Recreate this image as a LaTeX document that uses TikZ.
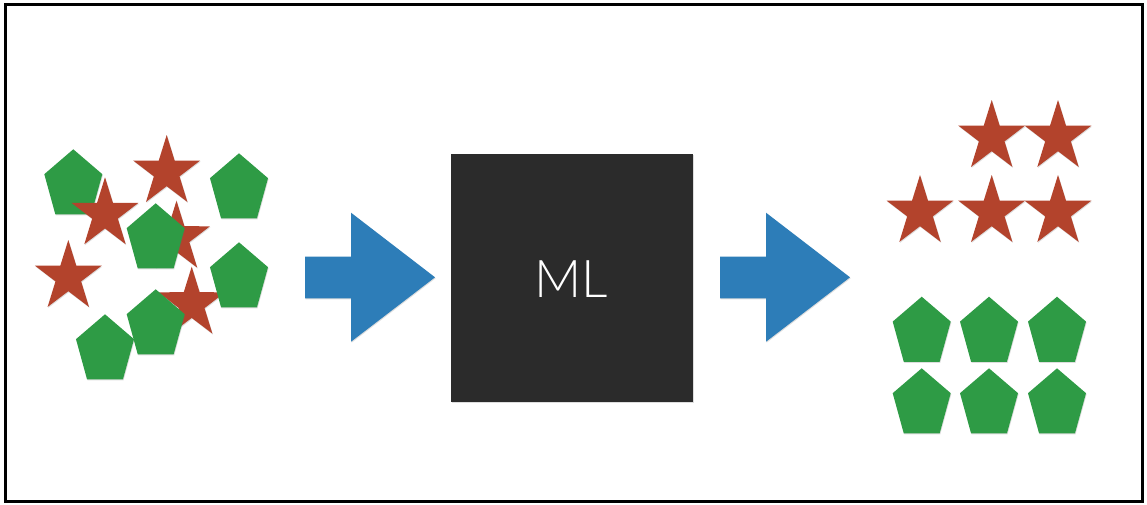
\documentclass[tikz,border=0pt]{standalone}
\usepackage{fontspec}
\setsansfont{Lato}
\newfontfamily\mlfont{Lato Light}
\usetikzlibrary{shadows}
\begin{document}
\begin{tikzpicture}[x=1pt,y=-1pt,
  frame/.style={draw=black,line width=3pt},
  softshadow/.style={drop shadow={shadow xshift=0.6pt,shadow yshift=-1pt,opacity=0.22,fill=black!60}},
  mlbox/.style={fill=boxgray,draw=none,minimum width=242pt,minimum height=248pt,inner sep=0pt,anchor=north west,softshadow},
  mltext/.style={text=white,font=\mlfont\fontsize{52}{52}\selectfont},
  blockarrow/.style={fill=arrowblue,softshadow},
  pentfill/.style={fill=pentgreen,softshadow},
  starfill/.style={fill=starred,softshadow}]
\definecolor{boxgray}{HTML}{2B2B2B}
\definecolor{arrowblue}{HTML}{2D7DB8}
\definecolor{pentgreen}{HTML}{2E9B45}
\definecolor{starred}{HTML}{B3432C}
\newcommand\pentat[2]{\fill[pentfill,shift={(#1,#2)}]
  (270:30.5 and 36) -- (342:30.5 and 36) -- (54:30.5 and 36) -- (126:30.5 and 36) -- (198:30.5 and 36) -- cycle;}
\newcommand\starat[2]{\fill[starfill,shift={(#1,#2)}]
  (270:35.2 and 37) -- (306:13.5 and 14.2) -- (342:35.2 and 37) -- (18:13.5 and 14.2) -- (54:35.2 and 37) -- (90:13.5 and 14.2) -- (126:35.2 and 37) -- (162:13.5 and 14.2) -- (198:35.2 and 37) -- (234:13.5 and 14.2) -- cycle;}
\useasboundingbox (0,0) rectangle (1147,504);
\fill[white] (0,0) rectangle (1147,504);
\draw[frame] (5.5,4.5) rectangle (1142.5,501.5);
% left cluster
\pentat{73.3}{185.3}
\starat{105}{214.3}
\starat{166.7}{172}
\starat{176.5}{237.7}
\starat{68.3}{277}
\starat{191.7}{303.7}
\pentat{105}{350.3}
\pentat{155.7}{325.3}
\pentat{155.7}{239.3}
\pentat{239}{278.3}
\pentat{239}{189.3}
% arrows
\fill[blockarrow] (305,256.7) -- (351,256.7) -- (351,212.7) -- (435,277.3) -- (351,341.7) -- (351,298.3) -- (305,298.3) -- cycle;
\fill[blockarrow] (720,256.7) -- (766,256.7) -- (766,212.7) -- (850,277.3) -- (766,341.7) -- (766,298.3) -- (720,298.3) -- cycle;
% ML box
\node[mlbox] (ml) at (451,154) {};
\node[mltext] (mllabel) at (571,279) {ML};
% right stars
\starat{991.7}{137}
\starat{1058}{137}
\starat{920}{212}
\starat{991.7}{212}
\starat{1058}{212}
% right pentagons
\pentat{921.7}{332.7}
\pentat{989}{332.7}
\pentat{1057}{332.7}
\pentat{921.7}{404.3}
\pentat{989}{404.3}
\pentat{1057}{404.3}
\end{tikzpicture}
\end{document}
